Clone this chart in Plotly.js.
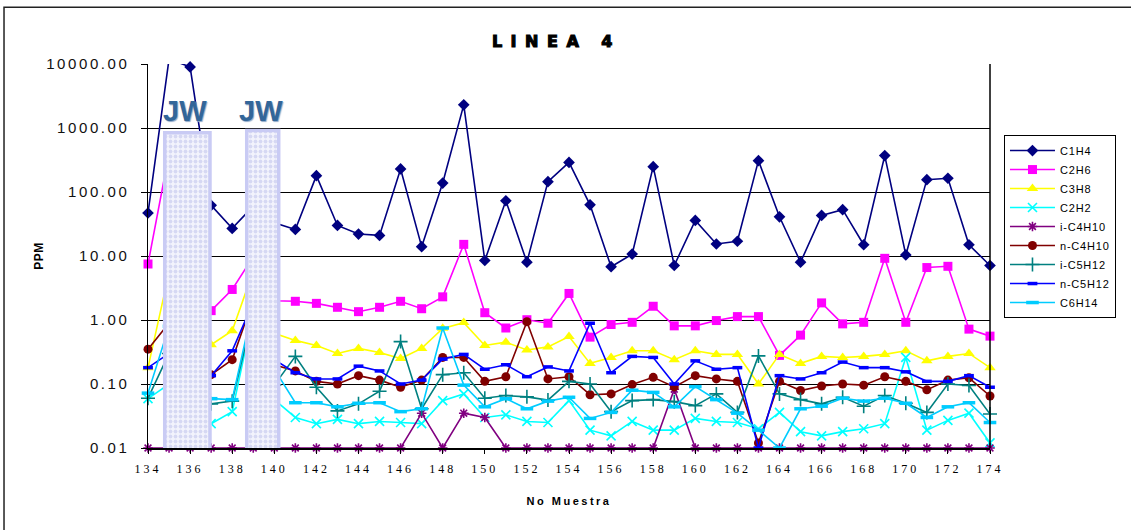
<!DOCTYPE html>
<html>
<head>
<meta charset="utf-8">
<script src="https://cdn.plot.ly/plotly-3.0.1.min.js"></script>
<style>
  html, body { margin: 0; padding: 0; background: #fff; }
  #chart { width: 1131px; height: 530px; }
  .gtitle { letter-spacing: 8.5px; stroke: #000; stroke-width: 1.1px; }
  .xtick text { letter-spacing: 3px; }
  .ytick text { letter-spacing: 2.6px; }
  .xtitle { letter-spacing: 2.5px; }
  .ytitle { letter-spacing: 0.5px; }
  .legendtext { letter-spacing: 0.8px; }
</style>
</head>
<body>
<div id="chart"></div>
<script>
// ---- data ----
const muestras = [134,135,136,137,138,139,140,141,142,143,144,145,146,147,148,149,150,151,152,153,154,
                  155,156,157,158,159,160,161,162,163,164,165,166,167,168,169,170,171,172,173,174];

const C1H4 = [47,12000,9000,62,27,60,33,26,180,30,22,21,229,14,138,2300,8.5,73,8.0,145,290,
              63,6.8,10.7,249,7.1,36,15.4,17,309,41,8.0,43,53,15,371,10.4,156,164,15,7.1];

const C2H6 = [7.5,400,20,1.4,3.0,9.8,2.0,1.96,1.82,1.58,1.35,1.58,1.96,1.50,2.3,15.2,1.30,0.75,1.01,0.89,2.6,
              0.54,0.85,0.92,1.64,0.81,0.81,0.98,1.13,1.13,0.28,0.58,1.85,0.87,0.92,9.2,0.92,6.6,6.9,0.72,0.56];

const C3H8 = [0.18,5.5,1.5,0.41,0.68,5.8,0.62,0.48,0.40,0.30,0.36,0.31,0.25,0.36,0.74,0.91,0.40,0.45,0.34,0.38,0.55,
              0.21,0.26,0.33,0.33,0.24,0.33,0.29,0.29,0.10,0.29,0.21,0.27,0.26,0.27,0.29,0.33,0.23,0.27,0.30,0.18];

const C2H2 = [0.059,0.1,0.05,0.024,0.037,1.3,0.057,0.030,0.024,0.028,0.024,0.026,0.025,0.024,0.055,0.070,0.030,0.033,0.026,0.025,0.055,
              0.019,0.0155,0.026,0.019,0.019,0.029,0.026,0.025,0.020,0.036,0.018,0.0155,0.018,0.020,0.024,0.26,0.019,0.027,0.035,0.012];

const iC4H10 = [0.01,0.01,0.01,0.01,0.01,0.01,0.01,0.01,0.01,0.01,0.01,0.01,0.01,0.035,0.01,0.035,0.030,0.01,0.01,0.01,0.01,
                0.01,0.01,0.01,0.01,0.083,0.01,0.01,0.01,0.01,0.01,0.01,0.01,0.01,0.01,0.01,0.01,0.01,0.01,0.01,0.01];

const nC4H10 = [0.35,0.9,0.4,0.14,0.24,2.1,0.20,0.16,0.11,0.10,0.135,0.115,0.089,0.115,0.26,0.26,0.11,0.13,0.94,0.12,0.13,
                0.068,0.07,0.098,0.127,0.09,0.135,0.12,0.11,0.012,0.11,0.079,0.093,0.10,0.096,0.13,0.11,0.081,0.115,0.125,0.065];

const iC5H12 = [0.06,0.3,0.2,0.049,0.054,1.3,0.096,0.27,0.089,0.038,0.049,0.077,0.46,0.041,0.14,0.15,0.06,0.066,0.063,0.056,0.11,
                0.10,0.037,0.055,0.057,0.053,0.046,0.07,0.036,0.275,0.07,0.057,0.049,0.062,0.045,0.066,0.05,0.036,0.10,0.095,0.034];

const nC5H12 = [0.18,0.30,0.2,0.135,0.33,1.9,0.24,0.15,0.12,0.12,0.19,0.16,0.10,0.115,0.245,0.29,0.17,0.20,0.13,0.185,0.16,
                0.89,0.15,0.27,0.26,0.10,0.23,0.17,0.18,0.01,0.135,0.12,0.15,0.22,0.18,0.18,0.155,0.11,0.11,0.135,0.089];

const C6H14 = [0.072,0.8,0.3,0.059,0.057,1.7,0.17,0.051,0.051,0.044,0.05,0.051,0.037,0.041,0.75,0.096,0.044,0.059,0.041,0.054,0.062,
               0.029,0.036,0.08,0.074,0.044,0.091,0.057,0.035,0.019,0.01,0.041,0.045,0.06,0.054,0.06,0.05,0.030,0.044,0.051,0.025];

const seriesNames = ["C1H4","C2H6","C3H8","C2H2","i-C4H10","n-C4H10","i-C5H12","n-C5H12","C6H14"];
const seriesValues = [C1H4, C2H6, C3H8, C2H2, iC4H10, nC4H10, iC5H12, nC5H12, C6H14];

const yTickVals = [0.01, 0.1, 1, 10, 100, 1000, 10000];
const yTickText = ["0.01","0.10","1.00","10.00","100.00","1000.00","10000.00"];
const xTickVals = [134,136,138,140,142,144,146,148,150,152,154,156,158,160,162,164,166,168,170,172,174];

const chartTitle = "LINEA 4";
const xTitle = "No Muestra";
const yTitle = "PPM";
const jwLabel = "JW";

// ---- styles ----
const styles = [
  {color:'#000080', symbol:'diamond', size:9, lw:0},
  {color:'#FF00FF', symbol:'square', size:9, lw:0},
  {color:'#FFFF00', symbol:'triangle-up', size:10, lw:0},
  {color:'#00FFFF', symbol:'x-thin-open', size:9, lw:1.6},
  {color:'#800080', symbol:'asterisk-open', size:8, lw:1.6},
  {color:'#800000', symbol:'circle', size:9, lw:0},
  {color:'#008080', symbol:'cross-thin-open', size:10, lw:1.6},
  {color:'#0000FF', symbol:'line-ew-open', size:7, lw:3.5},
  {color:'#00CCFF', symbol:'line-ew-open', size:9, lw:3.5}
];

const traces = seriesNames.map((name, i) => {
  const s = styles[i];
  const mk = {symbol: s.symbol, size: s.size, color: s.color};
  if (s.lw) mk.line = {color: s.color, width: s.lw};
  return {
    type: 'scatter', mode: 'lines+markers', name: name,
    x: muestras, y: seriesValues[i],
    line: {color: s.color, width: 1.6},
    marker: mk,
    cliponaxis: false,
    xaxis: 'x', yaxis: 'y'
  };
});

// "JW" cover boxes (drawn on an overlaid axis so they sit above the lines)
const jwBoxes = {
  centers: [135.87, 139.45],
  widths: [2.15, 1.52],
  tops: [0.829, 0.835]
};
traces.push({
  type: 'bar', x: jwBoxes.centers, y: jwBoxes.tops, base: [-0.008, -0.008],
  width: jwBoxes.widths, xaxis: 'x', yaxis: 'y2',
  showlegend: false, hoverinfo: 'skip', cliponaxis: false,
  marker: {
    color: '#eef0fb',
    line: {color: '#c9cbf4', width: 3.5},
    pattern: {shape: '.', fillmode: 'overlay', bgcolor: '#f3f3fc', fgcolor: '#b9bde9', size: 5, solidity: 0.45}
  }
});

const layout = {
  width: 1131, height: 530,
  paper_bgcolor: '#ffffff', plot_bgcolor: '#ffffff',
  margin: {l: 148, r: 141, t: 64, b: 82},
  showlegend: true,
  title: {
    text: chartTitle,
    font: {family: '"DejaVu Sans", "Liberation Sans", sans-serif', size: 16, weight: 'bold', color: '#000'},
    x: 0.492, xanchor: 'center', y: 0.922, yanchor: 'middle', yref: 'container'
  },
  xaxis: {
    range: [134, 174], tickvals: xTickVals, ticktext: xTickVals.map(String),
    ticks: 'outside', ticklen: 4, tickcolor: '#000', tickwidth: 1,
    showline: true, linecolor: '#000', linewidth: 1.5, mirror: false,
    showgrid: false, zeroline: false, ticklabelstandoff: 5,
    tickfont: {family: '"Liberation Serif", "DejaVu Serif", serif', size: 12, color: '#000'},
    title: {text: xTitle, standoff: 22, font: {family: '"Liberation Sans", Arial, sans-serif', size: 11, weight: 'bold', color: '#000'}}
  },
  yaxis: {
    type: 'log', range: [-2, 4], tickvals: yTickVals, ticktext: yTickText,
    ticks: 'outside', ticklen: 6, tickcolor: '#000', tickwidth: 1,
    showline: true, linecolor: '#000', linewidth: 1.5,
    showgrid: true, gridcolor: '#000', gridwidth: 1, zeroline: false,
    ticklabelstandoff: 8,
    tickfont: {family: '"Liberation Sans", Arial, sans-serif', size: 15, color: '#111'},
    title: {text: yTitle, standoff: 0, font: {family: '"Liberation Sans", Arial, sans-serif', size: 12, weight: 'bold', color: '#000'}}
  },
  yaxis2: {overlaying: 'y', range: [0, 1], visible: false, fixedrange: true},
  legend: {
    x: 1.0166, y: 0.815, xanchor: 'left', yanchor: 'top',
    bgcolor: '#fff', bordercolor: '#000', borderwidth: 1,
    font: {family: '"Liberation Sans", Arial, sans-serif', size: 11, color: '#000'},
    itemwidth: 45, tracegroupgap: 0
  },
  annotations: [
    {x: 135.78, y: 3.27, xref: 'x', yref: 'y', text: jwLabel, showarrow: false,
     font: {family: '"Liberation Sans", Arial, sans-serif', size: 29, weight: 'bold', color: '#336699', shadow: '1px 1px 1px #8fa8c8'}},
    {x: 139.38, y: 3.27, xref: 'x', yref: 'y', text: jwLabel, showarrow: false,
     font: {family: '"Liberation Sans", Arial, sans-serif', size: 29, weight: 'bold', color: '#336699', shadow: '1px 1px 1px #8fa8c8'}}
  ],
  shapes: [
    {type: 'rect', xref: 'paper', yref: 'paper', x0: -0.171, x1: 1.25, y0: -0.3, y1: 1.148,
     line: {color: '#222', width: 1.5}, fillcolor: 'rgba(0,0,0,0)', layer: 'below'},
    {type: 'line', xref: 'paper', yref: 'paper', x0: 1, x1: 1, y0: 0, y1: 1,
     line: {color: '#000', width: 1.5}}
  ]
};

Plotly.newPlot('chart', traces, layout, {staticPlot: true, displayModeBar: false});
</script>
</body>
</html>
